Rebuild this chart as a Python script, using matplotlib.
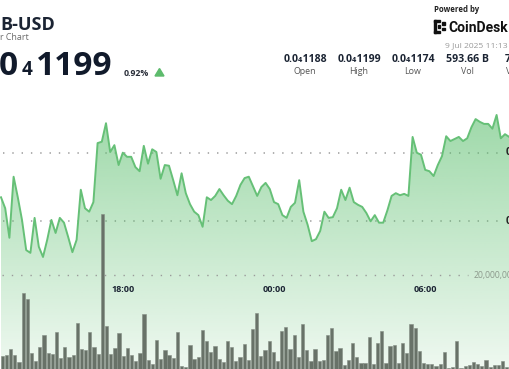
import matplotlib
matplotlib.use('Agg')
import matplotlib.pyplot as plt
import numpy as np
from matplotlib.patches import Polygon, Rectangle

plt.rcParams['lines.scale_dashes'] = False

# ---------------- data ----------------
# price in units of 1e-8 USD (1190 -> 0.0₄1190)
price = [1183.5, 1181.9, 1177.6, 1186.5, 1183.5, 1180.2, 1175.8, 1175.4, 1180.5, 1176.3,
         1174.8, 1177.3, 1180.2, 1178.3, 1180.5, 1179.8, 1177.7, 1175.5, 1177.3, 1184.6,
         1181.9, 1181.4, 1182.8, 1191.4, 1191.6, 1194.3, 1190.1, 1191.1, 1188.2, 1190.0,
         1189.4, 1189.4, 1187.9, 1187.3, 1191.0, 1188.4, 1190.5, 1190.1, 1186.2, 1188.2,
         1188.1, 1186.0, 1183.8, 1187.0, 1184.1, 1182.5, 1181.4, 1180.9, 1179.2, 1183.5,
         1183.1, 1183.7, 1184.7, 1183.8, 1183.0, 1182.5, 1183.7, 1185.3, 1186.3, 1186.5,
         1185.1, 1183.7, 1185.0, 1185.6, 1184.7, 1182.8, 1182.5, 1180.9, 1180.5, 1182.1,
         1182.7, 1186.0, 1181.4, 1179.5, 1177.1, 1177.4, 1178.6, 1181.4, 1180.5, 1180.6,
         1181.9, 1184.6, 1183.1, 1184.9, 1182.8, 1182.4, 1182.1, 1181.2, 1180.0, 1180.9,
         1179.8, 1179.8, 1181.6, 1183.7, 1184.1, 1183.8, 1184.0, 1183.7, 1192.3, 1190.0,
         1189.7, 1187.5, 1187.3, 1186.6, 1188.2, 1189.5, 1192.4, 1191.7, 1192.0, 1192.3,
         1191.7, 1192.1, 1193.7, 1194.9, 1194.5, 1194.2, 1194.2, 1193.5, 1195.5, 1192.1,
         1192.7, 1192.3]

# volume in millions
volume_m = [2.77, 2.98, 4.19, 2.98, 1.55, 16.24, 14.83, 3.47, 1.70, 4.62,
            7.24, 3.47, 3.13, 7.94, 2.28, 4.62, 2.49, 2.98, 9.73, 4.19,
            4.04, 7.94, 4.62, 3.13, 32.98, 9.15, 3.19, 4.40, 7.60, 2.83,
            4.53, 2.98, 1.70, 3.34, 11.64, 1.92, 1.00, 6.11, 2.06, 4.11,
            2.98, 2.40, 7.81, 0.64, 0.36, 5.04, 2.13, 2.62, 8.36, 5.89,
            3.55, 4.83, 2.06, 1.49, 5.89, 4.68, 1.70, 2.62, 5.38, 1.98,
            8.45, 11.85, 2.83, 4.04, 6.02, 3.55, 1.64, 8.15, 8.87, 4.26,
            7.30, 2.49, 9.64, 4.11, 1.70, 4.32, 1.70, 1.85, 7.17, 8.79,
            3.77, 4.47, 0.92, 1.85, 5.47, 2.49, 1.21, 1.34, 6.75, 1.00,
            5.53, 8.15, 1.28, 4.96, 5.17, 1.21, 5.60, 3.47, 9.58, 8.66,
            3.89, 1.21, 1.13, 1.13, 0.70, 1.06, 3.68, 0.28, 0.49, 6.02,
            0.28, 0.64, 0.92, 1.49, 1.06, 0.64, 1.98, 0.36, 0.79, 0.79,
            1.64, 0.43]

time_labels = ['18:00', '00:00', '06:00']
time_label_idx = [29, 65, 101]
grid_prices = [1190, 1180]
grid_price_labels = ['0.0₄119', '0.0₄118']
vol_grid = 20
vol_grid_label = '20,000,000'
stat_values = ['0.0₄1188', '0.0₄1199', '0.0₄1174', '593.66 B']
stat_labels = ['Open', 'High', 'Low', 'Vol']

# ---------------- layout ----------------
W, H = 510, 369
FONT = ['Open Sans', 'DejaVu Sans']
NAVY = '#1b2433'
LINE = '#66c077'

fig = plt.figure(figsize=(W / 100, H / 100), dpi=100)
fig.patch.set_facecolor('white')

def fx(x):
    return x / W

def fy(y):
    return 1 - y / H

def ftext(x, y, s, **kw):
    kw.setdefault('family', FONT)
    fig.text(fx(x), fy(y), s, **kw)

# price axes: pixel y 152.7 -> 1190, 6.86 px per unit
ppu = 6.86
p_top = 1190 + 152.7 / ppu
p_bot = 1190 - (H - 152.7) / ppu
# x: px = 1.0 + 4.2 * i
x0_line = -1.0 / 4.2
x1_line = (W - 1.0) / 4.2

ax = fig.add_axes([0, 0, 1, 1])
ax.set_xlim(x0_line, x1_line)
ax.set_ylim(p_bot, p_top)
ax.axis('off')
ax.patch.set_alpha(0)

idx = np.arange(len(price))
pr = np.array(price)

# dotted price grid
for gp in grid_prices:
    ax.plot([2 / 4.2, 500 / 4.2], [gp, gp], color='#9a9a9a', lw=1.1,
            linestyle=(0, (1.0, 5.7)), zorder=1)

# gradient fill under line
poly = ax.fill_between(idx, pr, p_bot, facecolor='none', edgecolor='none')
n = 400
ys = np.linspace(0, H, n)  # pixel rows top->bottom
alpha = np.clip(0.60 - (ys - 110) / (H - 110) * 0.50, 0.09, 0.64)
g = np.array([0x5c, 0xbf, 0x6e]) / 255.0
img = np.zeros((n, 1, 4))
img[:, 0, :3] = g
img[:, 0, 3] = alpha
im = ax.imshow(img, extent=[x0_line, x1_line, p_bot, p_top], aspect='auto',
               origin='upper', zorder=2, interpolation='bilinear')
im.set_clip_path(poly.get_paths()[0], transform=ax.transData)
ax.set_xlim(x0_line, x1_line)
ax.set_ylim(p_bot, p_top)

# volume axes: px = 2.3 + 4.17 * i ; 20M at y=275
vax = fig.add_axes([0, 0, 1, 1])
vax.patch.set_alpha(0)
vax.axis('off')
vax.set_xlim(-2.3 / 4.17, (W - 2.3) / 4.17)
vtop = vol_grid * H / (H - 275.0)
vax.set_ylim(0, vtop)
vax.plot([0, 466 / 4.17], [vol_grid, vol_grid], color='#9a9a9a', lw=1.0,
         linestyle=(0, (1.0, 5.7)), zorder=1)
vax.bar(np.arange(len(volume_m)), volume_m, width=0.78, color='#687268',
        edgecolor='#848e84', linewidth=0.4, zorder=3)

# line on top
lax = fig.add_axes([0, 0, 1, 1], sharex=ax, sharey=ax)
lax.axis('off')
lax.patch.set_alpha(0)
lax.plot(idx, pr, color=LINE, lw=1.4, solid_joinstyle='round', zorder=5)

# time labels
for lab, i in zip(time_labels, time_label_idx):
    ftext(1.0 + 4.2 * i, 289.5, lab, ha='center', va='center', fontsize=6.5,
          fontweight='bold', color=NAVY)

# right price labels (cut by the edge, as in the reference)
for gp, lab in zip(grid_prices, grid_price_labels):
    ftext(506, 152.7 + (1190 - gp) * ppu, lab, ha='left', va='center',
          fontsize=7.2, fontweight='bold', color='#222222')

ftext(474, 275.5, vol_grid_label, ha='left', va='center', fontsize=6.2,
      color='#8c998c')

# ---------------- header ----------------
ftext(0, 29.5, 'B-USD', ha='left', va='baseline', fontsize=13,
      fontweight='bold', color=NAVY)
ftext(-0.5, 40, 'r Chart', ha='left', va='baseline', fontsize=6.4,
      color='#6b6b6b')
ftext(-1, 75, '0', ha='left', va='baseline', fontsize=24, fontweight='bold',
      color='#111a2b')
ftext(21.5, 75, '4', ha='left', va='baseline', fontsize=13.5, fontweight='bold',
      color='#111a2b')
ftext(35.5, 75, '1199', ha='left', va='baseline', fontsize=24, fontweight='bold',
      color='#111a2b')
ftext(123.5, 76, '0.92%', ha='left', va='baseline', fontsize=6.3,
      fontweight='bold', color='#2a2f3a')
fig.patches.append(Polygon([[fx(155), fy(76)], [fx(164), fy(76)], [fx(159.5), fy(68.5)]],
                           closed=True, transform=fig.transFigure, color='#5dbb6c'))

ftext(434, 11.5, 'Powered by', ha='left', va='baseline', fontsize=5.6,
      fontweight='bold', color='#222222')
# CoinDesk logo mark
for (xa, ya, w, h) in [(434, 20, 2.4, 13), (434, 20, 6, 2.4), (434, 30.6, 6, 2.4),
                       (438.2, 25.3, 2.2, 2.2), (442.5, 22.5, 2.2, 2.2),
                       (442.5, 28.2, 2.2, 2.2)]:
    fig.patches.append(Rectangle((fx(xa), fy(ya + h)), w / W, h / H,
                                 transform=fig.transFigure, color='#111111'))
ftext(448.5, 32, 'CoinDesk', ha='left', va='baseline', fontsize=10,
      fontweight='bold', color='#111111', family=['Roboto', 'DejaVu Sans'])
ftext(445, 47, '9 Jul 2025 11:13', ha='left', va='baseline', fontsize=6.1,
      color='#9a9a9a')

col_x = [305, 359, 413, 467]
for cx, v, l in zip(col_x, stat_values, stat_labels):
    ftext(cx, 62.5, v, ha='center', va='baseline', fontsize=7.6,
          fontweight='bold', color=NAVY)
    ftext(cx, 74.5, l, ha='center', va='baseline', fontsize=6.4,
          color='#555555')
ftext(504.5, 62.5, '7', ha='left', va='baseline', fontsize=7.6,
      fontweight='bold', color=NAVY)
ftext(506.5, 74.5, 'V', ha='left', va='baseline', fontsize=6.4,
      color='#555555')

fig.savefig('out.png', dpi=100, facecolor='white')
